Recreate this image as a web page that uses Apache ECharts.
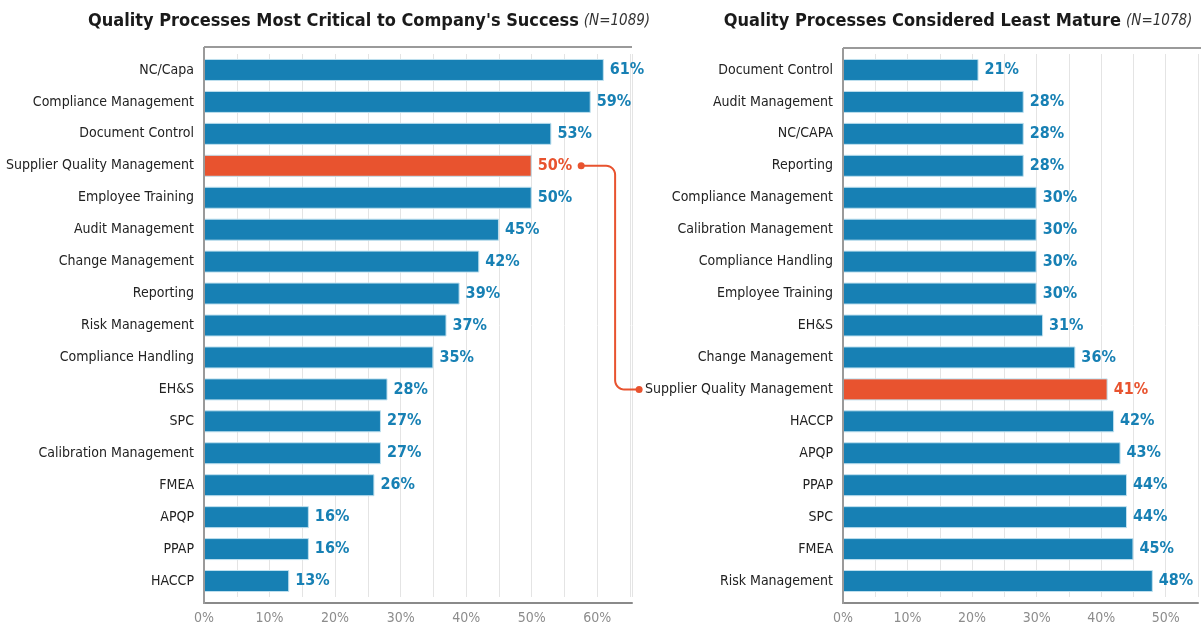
<!DOCTYPE html>
<html>
<head>
<meta charset="utf-8">
<script src="https://cdn.jsdelivr.net/npm/echarts@6/dist/echarts.min.js"></script>
<style>
  html, body { margin: 0; padding: 0; background: #fff; }
  #chart { width: 1201px; height: 627px; }
</style>
</head>
<body>
<div id="chart"></div>
<script>
// data
const critCats = ['NC/Capa', 'Compliance Management', 'Document Control', 'Supplier Quality Management',
  'Employee Training', 'Audit Management', 'Change Management', 'Reporting', 'Risk Management',
  'Compliance Handling', 'EH&S', 'SPC', 'Calibration Management', 'FMEA', 'APQP', 'PPAP', 'HACCP']
const critVals = [61, 59, 53, 50, 50, 45, 42, 39, 37, 35, 28, 27, 27, 26, 16, 16, 13]

const matureCats = ['Document Control', 'Audit Management', 'NC/CAPA', 'Reporting', 'Compliance Management',
  'Calibration Management', 'Compliance Handling', 'Employee Training', 'EH&S', 'Change Management',
  'Supplier Quality Management', 'HACCP', 'APQP', 'PPAP', 'SPC', 'FMEA', 'Risk Management']
const matureVals = [21, 28, 28, 28, 30, 30, 30, 30, 31, 36, 41, 42, 43, 44, 44, 45, 48]

const highlight = 'Supplier Quality Management'

const BLUE = '#1780b4'
const ORANGE = '#e8532f'
const FONT = "'Liberation Sans Narrow', 'DejaVu Sans Condensed', 'Roboto', sans-serif"

// layout
const L = { left: 204, top: 54, width: 428, height: 543, max: 65.3 }
const R = { left: 843, top: 54, width: 358, height: 543, max: 55 }

function barData(cats, vals) {
    return vals.map((v, i) => {
        if (cats[i] !== highlight) return v
        return {
            value: v,
            itemStyle: { color: ORANGE },
            label: { color: ORANGE }
        }
    })
}

function xAxisFor(idx, g) {
    return {
        type: 'value',
        gridIndex: idx,
        min: 0,
        max: g.max,
        interval: 5,
        offset: 6,
        axisLine: { show: true, lineStyle: { color: '#8a8a8a', width: 2 } },
        axisTick: { show: false },
        splitLine: { show: true, lineStyle: { color: '#e4e4e4', width: 1 } },
        axisLabel: {
            margin: 8,
            color: '#8c8c8c',
            fontSize: 14,
            fontFamily: FONT,
            showMaxLabel: true,
            formatter: v => (v % 10 === 0 ? v + '%' : '')
        }
    }
}

function yAxisFor(idx, cats) {
    return {
        type: 'category',
        gridIndex: idx,
        data: cats,
        inverse: true,
        axisLine: { show: false },
        axisTick: { show: false },
        axisLabel: { margin: 10, color: '#222', fontSize: 14, fontFamily: FONT }
    }
}

function seriesFor(idx, cats, vals) {
    return {
        type: 'bar',
        xAxisIndex: idx,
        yAxisIndex: idx,
        barWidth: 22,
        data: barData(cats, vals),
        itemStyle: { color: BLUE, borderColor: '#bfe0ef', borderWidth: 1 },
        label: {
            show: true,
            position: 'right',
            distance: 6,
            color: BLUE,
            fontSize: 16,
            fontWeight: 'bold',
            fontFamily: FONT,
            formatter: p => p.value + '%'
        }
    }
}

function frame(g, top) {
    return [
        { type: 'line', shape: { x1: g.left, y1: top, x2: g.left + g.width, y2: top },
          style: { stroke: '#9a9a9a', lineWidth: 2 }, z: 10 },
        { type: 'line', shape: { x1: g.left, y1: top, x2: g.left, y2: 604 },
          style: { stroke: '#9a9a9a', lineWidth: 2 }, z: 10 }
    ]
}

const titleRich = {
    b: { fontFamily: FONT, fontSize: 18, fontWeight: 'bold', color: '#1a1a1a' },
    i: { fontFamily: FONT, fontSize: 15, fontStyle: 'italic', fontWeight: 'normal', color: '#333' }
}

const chart = echarts.init(document.getElementById('chart'))

chart.setOption({
    animation: false,
    title: [
        {
            text: "{b|Quality Processes Most Critical to Company's Success} {i|(N=1089)}",
            left: 364, top: 7, textAlign: 'center',
            textStyle: { rich: titleRich }
        },
        {
            text: '{b|Quality Processes Considered Least Mature} {i|(N=1078)}',
            left: 953, top: 7, textAlign: 'center',
            textStyle: { rich: titleRich }
        }
    ],
    grid: [
        { left: L.left, top: L.top, width: L.width, height: L.height },
        { left: R.left, top: R.top, width: R.width, height: R.height }
    ],
    xAxis: [xAxisFor(0, L), xAxisFor(1, R)],
    yAxis: [yAxisFor(0, critCats), yAxisFor(1, matureCats)],
    series: [seriesFor(0, critCats, critVals), seriesFor(1, matureCats, matureVals)],
    graphic: [...frame(L, 47), ...frame(R, 48)]
})

// connector between the two highlighted rows
function textWidth(txt, font) {
    const ctx = document.createElement('canvas').getContext('2d')
    ctx.font = font
    return ctx.measureText(txt).width
}

const li = critCats.indexOf(highlight)
const ri = matureCats.indexOf(highlight)
const pl = chart.convertToPixel({ xAxisIndex: 0, yAxisIndex: 0 }, [critVals[li], li])
const pr = chart.convertToPixel({ xAxisIndex: 1, yAxisIndex: 1 }, [0, ri])
const x1 = pl[0] + 6 + textWidth(critVals[li] + '%', 'bold 16px ' + FONT) + 9
const x2 = pr[0] - 10 - textWidth(highlight, '14px ' + FONT) - 6
const y1 = pl[1]
const y2 = pr[1]
const vx = x2 - 24
const r = 9

function arcPts(cx, cy, a0, a1) {
    const pts = []
    for (let k = 0; k <= 8; k++) {
        const a = a0 + (a1 - a0) * k / 8
        pts.push([cx + r * Math.cos(a), cy + r * Math.sin(a)])
    }
    return pts
}

const path = [[x1, y1]]
    .concat(arcPts(vx - r, y1 + r, -Math.PI / 2, 0))
    .concat(arcPts(vx + r, y2 - r, Math.PI, Math.PI / 2))
    .concat([[x2, y2]])

chart.setOption({
    graphic: [...frame(L, 47), ...frame(R, 48),
        { type: 'polyline', shape: { points: path }, style: { stroke: ORANGE, lineWidth: 2, fill: null }, z: 20 },
        { type: 'circle', shape: { cx: x1, cy: y1, r: 3.5 }, style: { fill: ORANGE }, z: 21 },
        { type: 'circle', shape: { cx: x2, cy: y2, r: 3.5 }, style: { fill: ORANGE }, z: 21 }
    ]
})
</script>
</body>
</html>
